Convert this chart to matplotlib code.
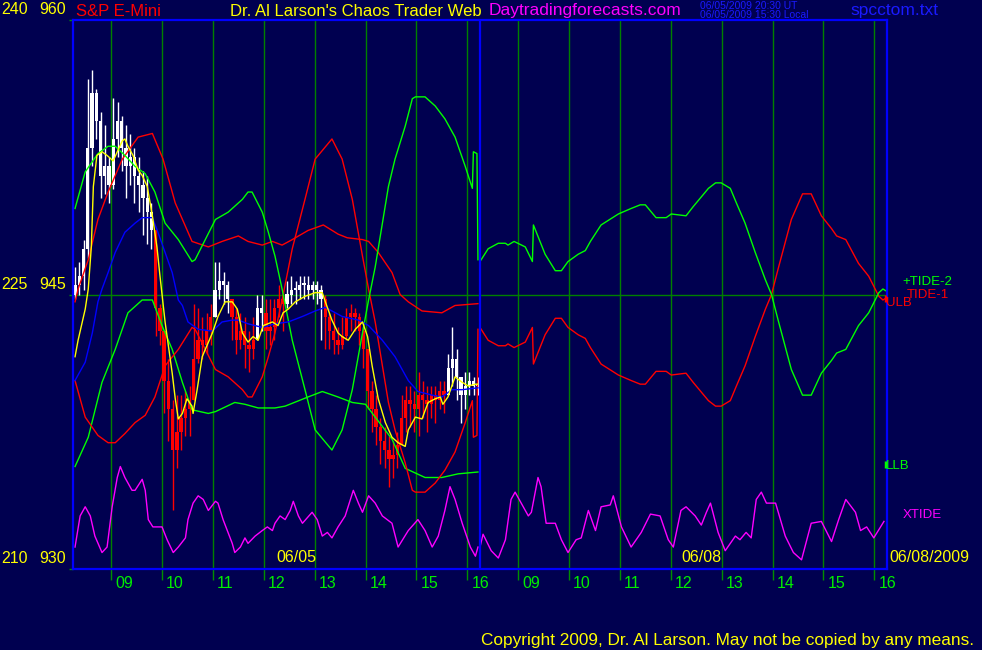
import numpy as np
import matplotlib.pyplot as plt
from matplotlib.transforms import blended_transform_factory

plt.rcParams['font.family'] = ['Liberation Sans', 'DejaVu Sans']

W, H = 982, 650
BG = '#000050'

# ---- 06/05 price bars, 5 minute, first bar 08:15 ----
bar_open0 = 945.0
bar_close = [945.5, 946.0, 947.5, 953.0, 956.0, 954.5, 951.5, 952.0, 951.0, 953.5,
             954.5, 953.0, 952.0, 952.5, 951.5, 951.0, 950.25, 949.5, 948.5, 944.25,
             943.0, 940.25, 938.75, 936.5, 937.5, 938.25, 938.75, 939.25, 941.5, 942.5,
             942.25, 943.0, 943.75, 945.25, 945.75, 945.5, 944.75, 943.75, 942.5, 943.0,
             942.25, 942.0, 942.5, 944.25, 944.0, 943.0, 943.25, 944.25, 944.75, 944.5,
             945.0, 945.25, 945.25, 945.5, 945.5, 945.25, 945.5, 945.25, 944.75, 943.75,
             943.0, 942.5, 942.25, 942.75, 943.75, 944.0, 943.75, 943.0, 942.0, 939.75,
             938.75, 937.75, 937.0, 936.5, 936.0, 936.25, 936.75, 938.25, 939.25, 939.0,
             938.75, 939.5, 939.25, 939.0, 939.5, 939.25, 939.75, 939.5, 941.0, 941.5,
             940.5, 939.5, 940.0, 940.25, 940.0, 940.0]
bar_high = [946.5, 946.75, 948.0, 956.75, 957.25, 956.25, 955.0, 954.25, 952.5, 955.75,
            955.5, 954.75, 954.25, 953.75, 953.0, 952.5, 951.75, 951.5, 950.0, 945.0,
            944.5, 942.75, 941.5, 939.25, 939.5, 939.5, 939.75, 940.0, 944.5, 944.25,
            943.75, 944.0, 944.5, 946.75, 946.75, 946.25, 945.75, 944.75, 944.25, 944.0,
            943.75, 943.0, 943.75, 945.0, 945.0, 944.75, 944.75, 944.75, 945.5, 945.25,
            945.75, 946.0, 945.75, 946.0, 946.0, 946.0, 945.75, 945.75, 945.5, 945.0,
            944.0, 944.0, 943.25, 943.75, 944.25, 944.5, 944.25, 944.0, 943.25, 941.75,
            940.25, 939.5, 938.25, 937.75, 937.25, 937.0, 937.5, 939.5, 940.0, 940.0,
            939.75, 940.75, 940.25, 940.0, 940.0, 940.0, 940.25, 940.25, 941.75, 943.25,
            942.0, 940.5, 940.75, 940.75, 940.5, 940.5]
bar_low = [944.75, 945.0, 945.25, 947.0, 952.0, 953.5, 950.25, 950.5, 950.0, 950.75,
           952.5, 951.75, 950.25, 951.0, 950.0, 949.5, 948.25, 947.75, 947.5, 942.75,
           942.25, 938.5, 937.0, 933.25, 935.5, 936.5, 937.25, 937.25, 939.75, 941.25,
           941.5, 941.75, 942.25, 944.25, 944.75, 944.5, 944.0, 942.5, 941.75, 942.0,
           941.0, 940.75, 941.5, 942.75, 943.0, 942.0, 942.25, 942.5, 943.75, 943.0,
           944.25, 944.5, 944.5, 944.75, 944.75, 944.75, 944.75, 944.5, 942.5, 942.0,
           942.0, 941.75, 941.75, 942.0, 942.5, 943.0, 943.0, 942.25, 941.0, 938.75,
           937.5, 936.75, 935.75, 935.5, 934.5, 935.0, 935.5, 937.0, 937.5, 937.75,
           937.5, 937.25, 938.25, 937.5, 938.25, 938.0, 938.75, 938.5, 939.5, 940.0,
           939.25, 938.0, 938.75, 939.5, 939.5, 939.5]
# 1 = white (up trend), 0 = red (down trend)
bar_up = [1] * 19 + [0] * 14 + [1] * 4 + [0] * 6 + [1] * 2 + [0] * 5 + [1] * 9 + [0] * 29 + [1] * 8

# ---- 06/05 moving averages ----
fast_h = [8.29, 8.35, 8.49, 8.55, 8.61, 8.65, 8.72, 8.82, 8.92, 9.04, 9.12, 9.22, 9.27, 9.33,
          9.43, 9.53, 9.61, 9.71, 9.81, 9.90, 9.96, 10.06, 10.20, 10.26, 10.32, 10.40, 10.49,
          10.59, 10.61, 10.69, 10.79, 10.85, 10.99, 11.10, 11.24, 11.38, 11.48, 11.58, 11.69,
          11.79, 11.89, 11.99, 12.17, 12.28, 12.38, 12.48, 12.62, 12.81, 13.01, 13.15, 13.21,
          13.34, 13.46, 13.54, 13.66, 13.80, 13.94, 14.04, 14.13, 14.25, 14.39, 14.52, 14.64,
          14.78, 14.84, 14.98, 15.11, 15.23, 15.37, 15.47, 15.52, 15.62, 15.76, 15.90, 16.02,
          16.16, 16.21]
fast_p = [941.6, 942.5, 944.2, 945.3, 947.6, 950.9, 952.6, 952.8, 952.6, 952.3, 952.8, 953.4,
          953.5, 953.1, 952.6, 951.8, 951.5, 950.9, 949.3, 947.6, 946.0, 943.5, 940.7, 939.3,
          938.2, 938.5, 939.3, 938.9, 938.5, 939.8, 941.6, 942.0, 942.9, 943.8, 944.6, 944.6,
          944.2, 942.9, 942.4, 942.7, 942.5, 943.3, 943.5, 943.3, 944.0, 944.2, 944.6, 944.9,
          945.1, 945.1, 944.6, 943.6, 942.9, 942.7, 942.5, 943.1, 943.5, 942.7, 941.1, 939.3,
          938.0, 937.2, 936.9, 936.7, 937.6, 938.3, 938.2, 939.1, 939.3, 939.4, 939.0, 939.4,
          940.5, 940.2, 940.0, 940.1, 940.1]
slow_h = [8.29, 8.49, 8.63, 8.74, 8.82, 8.94, 9.08, 9.27, 9.47, 9.61, 9.81, 9.92, 10.06, 10.20,
          10.32, 10.40, 10.51, 10.71, 10.99, 11.18, 11.38, 11.50, 11.69, 11.97, 12.22, 12.48,
          12.76, 13.01, 13.21, 13.34, 13.54, 13.86, 14.06, 14.33, 14.58, 14.84, 15.03, 15.31,
          15.50, 15.70, 15.90, 16.21]
slow_p = [940.3, 941.3, 942.9, 944.6, 945.3, 946.2, 947.3, 948.4, 948.9, 949.2, 949.2, 948.4,
          947.3, 946.2, 944.7, 944.4, 943.5, 943.1, 943.0, 943.5, 943.6, 943.6, 943.4, 943.2,
          943.4, 943.5, 943.8, 944.1, 944.3, 944.1, 943.8, 943.6, 943.3, 942.5, 941.6, 940.3,
          939.7, 939.5, 939.4, 939.8, 939.8, 939.9]

# ---- 06/05 bands ----
ulb_h = [8.29, 8.35, 8.55, 8.74, 8.94, 9.22, 9.53, 9.81, 10.02, 10.26, 10.59, 10.91, 11.18,
         11.50, 11.69, 11.97, 12.17, 12.36, 12.56, 12.87, 13.17, 13.46, 13.64, 13.94, 14.06,
         14.25, 14.52, 14.68, 14.84, 15.11, 15.50, 15.76, 16.21]
ulb_p = [944.6, 945.3, 946.9, 949.1, 950.6, 952.4, 953.6, 953.8, 952.4, 950.0, 947.9, 947.6,
         947.9, 948.2, 947.9, 947.7, 947.9, 947.7, 948.0, 948.5, 948.8, 948.3, 948.1, 948.0,
         947.9, 947.3, 946.2, 945.0, 944.6, 944.1, 944.0, 944.4, 944.5]
llb_h = [8.29, 8.55, 8.82, 9.08, 9.33, 9.61, 9.81, 10.0, 10.20, 10.40, 10.59, 10.91, 11.05,
         11.43, 11.63, 11.89, 12.22, 12.42, 12.87, 13.15, 13.46, 13.74, 14.0, 14.19, 14.52,
         14.78, 15.17, 15.50, 15.82, 16.21]
llb_p = [935.6, 937.2, 940.2, 942.0, 944.0, 944.7, 944.7, 943.3, 942.0, 940.2, 938.7, 938.5,
         938.6, 939.1, 939.0, 938.8, 938.8, 938.9, 939.4, 939.7, 939.4, 939.1, 939.0, 938.3,
         937.1, 935.5, 935.0, 935.0, 935.2, 935.3]
ulb_end = 944.8
llb_end = 935.7

# ---- tides, 06/05 ----
tide_d1_h = [8.29, 8.49, 8.74, 8.94, 9.08, 9.27, 9.47, 9.67, 9.86, 10.06, 10.32, 10.59, 10.65,
             10.85, 11.05, 11.30, 11.58, 11.69, 11.77, 11.97, 12.09, 12.22, 12.36, 12.56, 12.81,
             13.01, 13.34, 13.54, 13.74, 13.94, 14.06, 14.19, 14.45, 14.58, 14.78, 14.92, 14.98,
             15.17, 15.37, 15.56, 15.76, 15.96, 16.10, 16.12, 16.19, 16.21]
tide2_d1 = [949.7, 951.7, 952.7, 953.1, 953.1, 952.6, 952.0, 951.6, 950.6, 948.9, 948.0, 946.8,
            946.9, 948.0, 949.1, 949.5, 950.2, 950.6, 950.6, 949.5, 948.4, 947.1, 945.3, 942.5,
            939.8, 937.6, 936.5, 937.6, 939.8, 942.9, 944.7, 946.5, 950.9, 952.4, 954.2, 955.7,
            955.8, 955.8, 955.3, 954.6, 953.6, 952.0, 950.8, 952.8, 952.7, 946.9]
tide1_d1 = [940.3, 938.3, 937.3, 936.9, 936.9, 937.4, 938.0, 938.4, 939.4, 941.1, 942.0, 943.2,
            943.1, 942.0, 940.9, 940.5, 939.8, 939.4, 939.4, 940.5, 941.6, 942.9, 944.7, 947.5,
            950.2, 952.4, 953.5, 952.4, 950.2, 947.1, 945.3, 943.5, 939.1, 937.6, 935.8, 934.3,
            934.2, 934.2, 934.7, 935.4, 936.4, 938.0, 939.2, 937.2, 937.3, 943.1]

# ---- tides, 06/08 projection ----
tide_d2_h = [8.25, 8.41, 8.61, 8.75, 8.80, 8.92, 9.14, 9.28, 9.30, 9.53, 9.73, 9.85, 9.98,
             10.18, 10.32, 10.42, 10.63, 10.97, 11.22, 11.40, 11.50, 11.71, 11.91, 12.01, 12.30,
             12.44, 12.74, 12.88, 12.99, 13.17, 13.29, 13.46, 13.66, 13.86, 13.98, 14.11, 14.37,
             14.59, 14.76, 14.96, 15.16, 15.26, 15.44, 15.69, 15.89, 16.09, 16.17, 16.23]
tide2_d2 = [946.8, 947.5, 947.8, 947.8, 947.7, 947.9, 947.6, 946.8, 948.8, 947.2, 946.3, 946.3,
            946.8, 947.2, 947.4, 947.9, 948.8, 949.4, 949.7, 949.9, 949.9, 949.2, 949.2, 949.4,
            949.3, 949.8, 950.8, 951.1, 951.1, 950.8, 950.0, 948.9, 947.3, 945.8, 945.0, 943.6,
            940.9, 939.5, 939.5, 940.7, 941.4, 941.8, 942.0, 943.3, 944.0, 945.1, 945.3, 945.2]
tide1_d2 = [943.2, 942.5, 942.2, 942.2, 942.3, 942.1, 942.4, 943.2, 941.2, 942.8, 943.7, 943.7,
            943.2, 942.8, 942.6, 942.1, 941.2, 940.6, 940.3, 940.1, 940.1, 940.8, 940.8, 940.6,
            940.7, 940.2, 939.2, 938.9, 938.9, 939.2, 940.0, 941.1, 942.7, 944.2, 945.0, 946.4,
            949.1, 950.5, 950.5, 949.3, 948.6, 948.2, 948.0, 946.7, 946.0, 944.9, 944.7, 944.8]

# ---- XTIDE ----
xtide_d1_h = [8.29, 8.39, 8.49, 8.59, 8.68, 8.82, 8.92, 9.02, 9.12, 9.18, 9.27, 9.41, 9.47, 9.61,
              9.67, 9.73, 9.82, 10.0, 10.10, 10.22, 10.32, 10.46, 10.51, 10.61, 10.71, 10.81,
              10.91, 11.05, 11.10, 11.20, 11.38, 11.43, 11.54, 11.63, 11.69, 11.83, 11.97, 12.07,
              12.17, 12.22, 12.32, 12.42, 12.52, 12.58, 12.68, 12.76, 12.95, 13.05, 13.15, 13.25,
              13.34, 13.46, 13.60, 13.76, 13.86, 13.94, 14.06, 14.19, 14.33, 14.52, 14.64, 14.84,
              15.03, 15.17, 15.31, 15.43, 15.56, 15.66, 15.76, 15.90, 16.06, 16.16, 16.21]
xtide_d1 = [931.2, 932.9, 933.4, 932.9, 931.8, 930.9, 931.2, 933.4, 935.0, 935.6, 935.0, 934.3,
            934.3, 934.9, 934.3, 932.7, 932.3, 932.3, 931.6, 930.9, 931.2, 931.7, 932.7, 933.6,
            934.0, 933.8, 933.2, 933.7, 933.6, 932.7, 931.4, 930.9, 931.2, 931.7, 931.4, 931.8,
            932.1, 932.3, 932.1, 932.5, 932.9, 932.7, 933.2, 933.7, 932.9, 932.5, 933.1, 932.7,
            931.8, 932.0, 931.7, 932.3, 932.9, 934.3, 933.6, 933.1, 934.0, 933.6, 932.9, 932.5,
            931.2, 932.1, 932.7, 932.1, 931.2, 931.8, 933.2, 934.5, 933.8, 932.5, 931.2, 930.7,
            931.2]
xtide_d2_h = [8.25, 8.31, 8.47, 8.61, 8.75, 8.86, 8.94, 9.06, 9.20, 9.26, 9.39, 9.45, 9.55, 9.73,
              9.85, 9.98, 10.14, 10.24, 10.38, 10.52, 10.63, 10.81, 10.87, 11.03, 11.22, 11.42,
              11.60, 11.79, 11.95, 12.05, 12.20, 12.30, 12.48, 12.60, 12.70, 12.78, 12.93, 13.07,
              13.27, 13.36, 13.48, 13.58, 13.68, 13.78, 13.88, 14.06, 14.25, 14.41, 14.57, 14.76,
              14.96, 15.16, 15.30, 15.44, 15.63, 15.73, 15.85, 15.99, 16.19]
xtide_d2 = [931.2, 931.9, 931.0, 930.6, 931.6, 933.8, 934.2, 933.6, 932.9, 933.1, 935.0, 934.5,
            932.5, 932.5, 931.6, 930.9, 931.6, 931.7, 933.2, 932.1, 933.4, 933.5, 934.0, 932.3,
            931.2, 932.0, 933.0, 932.9, 931.6, 931.2, 933.2, 933.4, 932.9, 932.4, 933.1, 933.6,
            932.0, 931.0, 931.8, 931.6, 932.0, 931.7, 933.8, 934.2, 933.6, 933.6, 931.8, 930.9,
            930.5, 932.5, 932.6, 931.5, 932.7, 933.8, 933.1, 932.1, 932.3, 931.7, 932.6]

hours = [9, 10, 11, 12, 13, 14, 15, 16]
price_levels = [930, 945, 960]
alt_levels = [210, 225, 240]


def sess(h, day):
    # session time axis: 08:15 of 06/05 is 0, 06/08 starts at 8
    return np.asarray(h, dtype=float) - 8.25 + 8 * day


fig = plt.figure(figsize=(W / 100, H / 100), dpi=100, facecolor=BG)
ax = fig.add_axes([73 / W, 1 - 569 / H, (887 - 73) / W, (569 - 20) / H])
ax.set_facecolor(BG)
ax.set_xlim(0, 16)
ax.set_ylim(930, 960)
for sp in ax.spines.values():
    sp.set_color('#0000ff')
    sp.set_linewidth(1.6)
    sp.set_zorder(6)

# hour lines and ticks
tick_pos = [t for d in (0, 1) for t in sess(hours, d)]
ax.set_xticks(tick_pos)
ax.set_xticklabels([])
ax.tick_params(axis='x', direction='out', length=8, width=1, color='#009000')
ax.set_yticks(price_levels)
ax.set_yticklabels([])
ax.tick_params(axis='y', direction='out', length=3, width=1, color='#009000')
for t in tick_pos:
    ax.axvline(t, color='#008000', lw=1, zorder=1)
ax.axhline(945, color='#008000', lw=1, zorder=1)
ax.axvline(8, color='#0000ff', lw=1.6, zorder=6)

bx = blended_transform_factory(ax.transData, ax.transAxes)
for t, h in zip(tick_pos, hours * 2):
    ax.text(t + 0.08, -0.026, '%02d' % h, transform=bx, ha='left', va='center',
            color='#00ee00', fontsize=11.5)

by = blended_transform_factory(ax.transAxes, ax.transData)
for a, p in zip(alt_levels, price_levels):
    ax.text(-0.088, p + 0.15, str(a), transform=by, ha='left', va='bottom',
            color='#ffff00', fontsize=11.5)
    ax.text(-0.041, p + 0.15, str(p), transform=by, ha='left', va='bottom',
            color='#ffff00', fontsize=11.5)

# price bars
c = np.array(bar_close)
o = np.r_[bar_open0, c[:-1]]
hi = np.maximum(np.array(bar_high), np.maximum(o, c))
lo = np.minimum(np.array(bar_low), np.minimum(o, c))
bt = sess(8.25 + (np.arange(len(c)) + 0.5) * 5 / 60, 0)
cols = np.where(np.array(bar_up) == 1, '#ffffff', '#ff0000')
ax.vlines(bt, lo, hi, colors=cols, lw=1, zorder=2)
body_lo = np.minimum(o, c)
body_h = np.maximum(np.abs(c - o), 0.12)
ax.bar(bt, body_h, bottom=body_lo, width=0.065, color=cols, lw=0, zorder=2)

# lines
ax.plot(sess(ulb_h, 0), ulb_p, color='#ff0000', lw=1, zorder=3)
ax.plot(sess(llb_h, 0), llb_p, color='#00ff00', lw=1, zorder=3)
ax.plot(sess(tide_d1_h, 0), tide1_d1, color='#ff0000', lw=1, zorder=3)
ax.plot(sess(tide_d1_h, 0), tide2_d1, color='#00ff00', lw=1, zorder=3)
ax.plot(sess(tide_d2_h, 1), tide1_d2, color='#ff0000', lw=1, zorder=3)
ax.plot(sess(tide_d2_h, 1), tide2_d2, color='#00ff00', lw=1, zorder=3)
ax.plot(sess(slow_h, 0), slow_p, color='#0000ff', lw=1, zorder=3)
ax.plot(sess(fast_h, 0), fast_p, color='#ffff00', lw=1, zorder=4)
ax.plot(sess(xtide_d1_h, 0), xtide_d1, color='#ff00ff', lw=1, zorder=3)
ax.plot(sess(xtide_d2_h, 1), xtide_d2, color='#ff00ff', lw=1, zorder=3)
ax.vlines(15.99, ulb_end - 0.2, ulb_end + 0.2, colors='#ff0000', lw=2.5, zorder=7)
ax.vlines(15.99, llb_end - 0.2, llb_end + 0.2, colors='#00ff00', lw=2.5, zorder=7)


def label(x, y, s, color, size=11, ha='left'):
    fig.text(x / W, 1 - y / H, s, color=color, fontsize=size, ha=ha, va='center')


label(76, 11, 'S&P E-Mini', '#ff0000', 12)
label(230, 11, "Dr. Al Larson's Chaos Trader Web", '#ffff00', 12)
label(489, 11, 'Daytradingforecasts.com', '#ff00ff', 12.5)
label(700, 6, '06/05/2009 20:30 UT', '#1a1aff', 7.5)
label(700, 15, '06/05/2009 15:30 Local', '#1a1aff', 7.5)
label(850, 10, 'spcctom.txt', '#1a1aff', 12.5)
label(296, 557, '06/05', '#ffff00', 11.5, 'center')
label(701, 557, '06/08', '#ffff00', 11.5, 'center')
label(889, 557, '06/08/2009', '#ffff00', 11.5)
label(902, 282, '+TIDE-2', '#00ff00', 9.5)
label(907, 295, 'TIDE-1', '#ff0000', 9.5)
label(886, 303, 'ULB', '#ff0000', 9.5)
label(886, 466, 'LLB', '#00ff00', 9.5)
label(903, 515, 'XTIDE', '#ff00ff', 9.5)
label(481, 640, 'Copyright 2009, Dr. Al Larson. May not be copied by any means.', '#ffff00', 12.4)

fig.savefig('out.png', dpi=100, facecolor=BG)
